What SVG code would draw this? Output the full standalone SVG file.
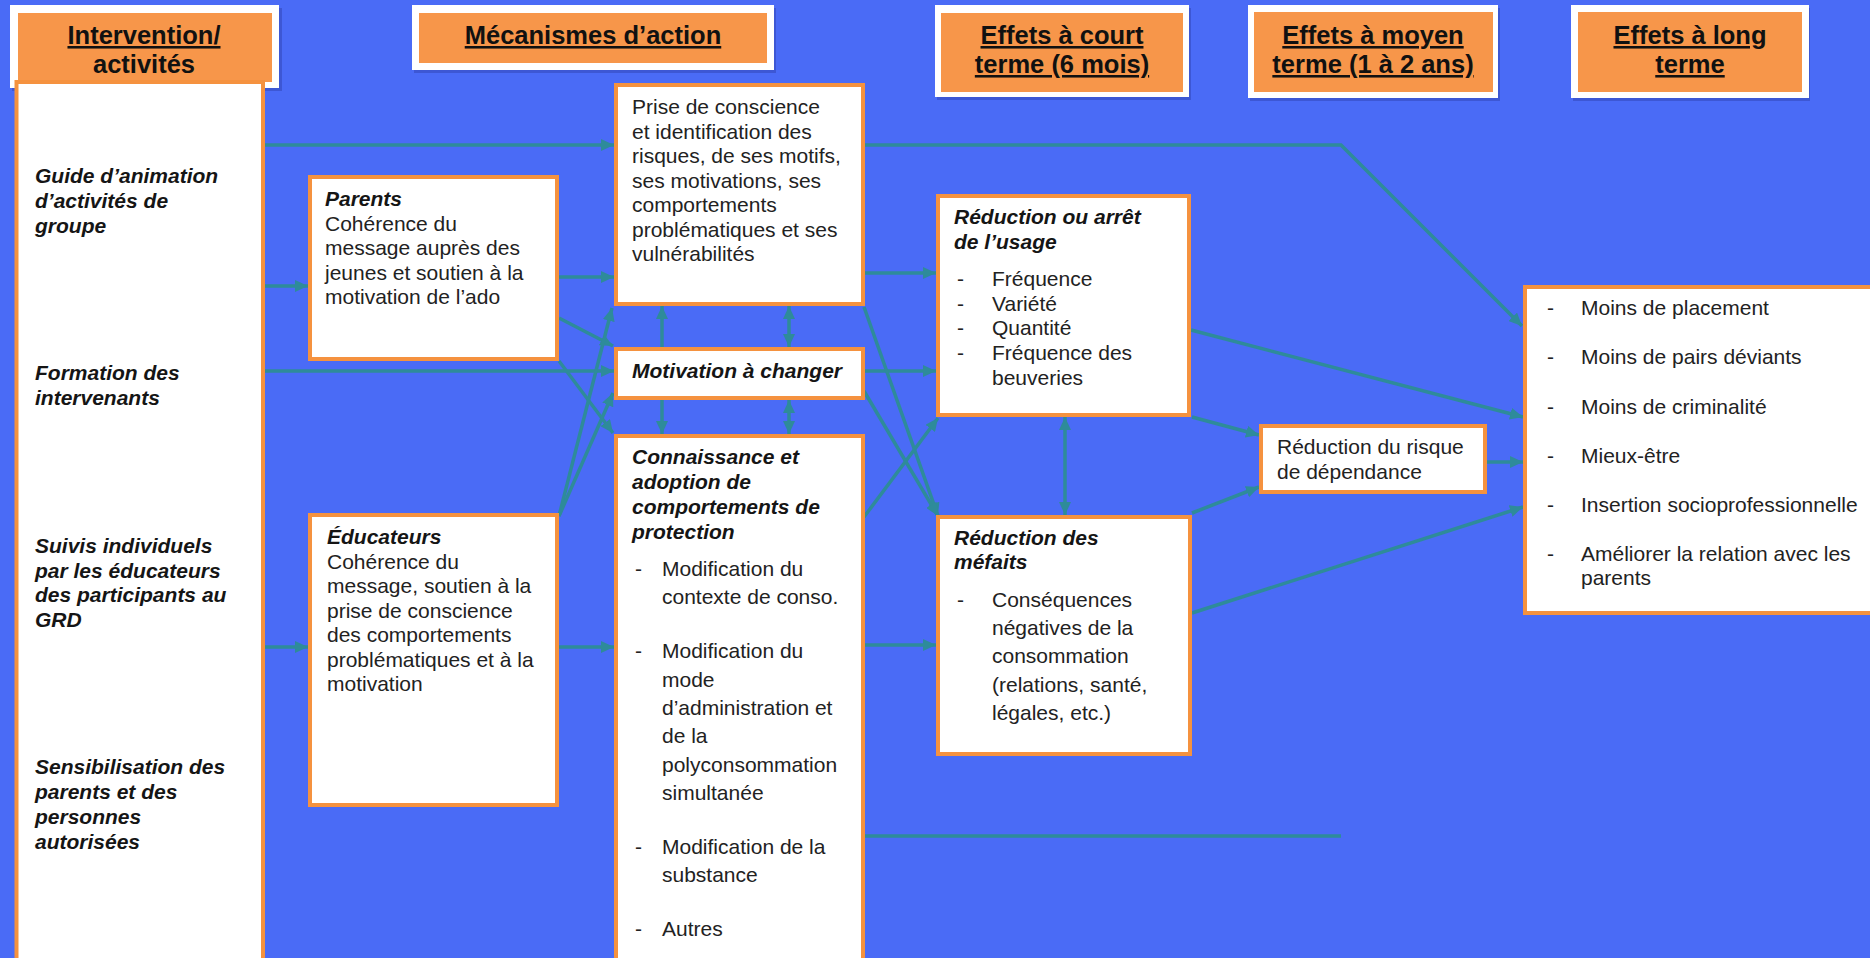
<svg xmlns="http://www.w3.org/2000/svg" width="1870" height="958" viewBox="0 0 1870 958">
<defs>
<style>
.hdr-shadow{fill:#3347b8;opacity:0.55}
.hdr-frame{fill:#ffffff}
.hdr-fill{fill:#F7964A}
.hdr-text{font-family:"Liberation Sans",Arial,sans-serif;font-size:25.5px;font-weight:bold;fill:#111;text-anchor:middle;text-decoration:underline}
.box{fill:#ffffff;stroke:#F5923F;stroke-width:4}
.t{font-family:"Liberation Sans",Arial,sans-serif;font-size:21px;fill:#222}
.bi{font-family:"Liberation Sans",Arial,sans-serif;font-size:21px;font-weight:bold;font-style:italic;fill:#151515}
.c{fill:none;stroke:#2E8B9A;stroke-width:3.5}
.a{marker-end:url(#ah)}
.d{marker-end:url(#ah);marker-start:url(#ah)}
</style>
<marker id="ah" markerUnits="userSpaceOnUse" markerWidth="14" markerHeight="12" refX="13" refY="6" orient="auto-start-reverse">
<path d="M0,0 L13,6 L0,12 z" fill="#2E8B9A"/>
</marker>
</defs>
<rect x="0" y="0" width="1870" height="958" fill="#4A6BF6"/>

<g id="header-intervention">
<rect class="hdr-shadow" x="12" y="8" width="270" height="83"/>
<rect class="hdr-frame" x="10" y="5" width="269" height="83"/>
<rect class="hdr-fill" x="18" y="13" width="254" height="69"/>
<text class="hdr-text" x="144" y="44">Intervention/</text>
<text class="hdr-text" x="144" y="73" style="text-decoration:none">activités</text>
</g>
<g id="header-mecanismes">
<rect class="hdr-shadow" x="414" y="8" width="362" height="65"/>
<rect class="hdr-frame" x="412" y="5" width="362" height="65"/>
<rect class="hdr-fill" x="419" y="13" width="348" height="50"/>
<text class="hdr-text" x="593" y="44">Mécanismes d’action</text>
</g>
<g id="header-court">
<rect class="hdr-shadow" x="937" y="8" width="254" height="92"/>
<rect class="hdr-frame" x="935" y="5" width="254" height="92"/>
<rect class="hdr-fill" x="941" y="13" width="242" height="79"/>
<text class="hdr-text" x="1062" y="44">Effets à court</text>
<text class="hdr-text" x="1062" y="73">terme (6 mois)</text>
</g>
<g id="header-moyen">
<rect class="hdr-shadow" x="1250" y="8" width="250" height="93"/>
<rect class="hdr-frame" x="1248" y="5" width="250" height="93"/>
<rect class="hdr-fill" x="1254" y="12" width="239" height="80"/>
<text class="hdr-text" x="1373" y="44">Effets à moyen</text>
<text class="hdr-text" x="1373" y="73">terme (1 à 2 ans)</text>
</g>
<g id="header-long">
<rect class="hdr-shadow" x="1573" y="8" width="237" height="93"/>
<rect class="hdr-frame" x="1571" y="5" width="238" height="93"/>
<rect class="hdr-fill" x="1578" y="12" width="224" height="80"/>
<text class="hdr-text" x="1690" y="44">Effets à long</text>
<text class="hdr-text" x="1690" y="73">terme</text>
</g>

<g id="connectors">
<path class="c a" d="M265,145 L614,145"/>
<path class="c a" d="M865,145 L1341,145 L1522,326"/>
<path class="c a" d="M265,286 L308,286"/>
<path class="c a" d="M559,277 L614,277"/>
<path class="c a" d="M265,371 L614,371"/>
<path class="c a" d="M265,647 L308,647"/>
<path class="c a" d="M559,647 L614,647"/>
<path class="c a" d="M559,318 L613,346"/>
<path class="c a" d="M559,361 L613,433"/>
<path class="c a" d="M559,516 L612,308"/>
<path class="c a" d="M559,516 L613,393"/>
<path class="c a" d="M662,347 L662,306"/>
<path class="c d" d="M789,347 L789,306"/>
<path class="c a" d="M662,400 L662,434"/>
<path class="c d" d="M789,400 L789,434"/>
<path class="c a" d="M865,273 L936,273"/>
<path class="c a" d="M865,371 L936,371"/>
<path class="c a" d="M864,307 L938,516"/>
<path class="c a" d="M864,391 L938,516"/>
<path class="c a" d="M864,517 L938,418"/>
<path class="c a" d="M865,645 L936,645"/>
<path class="c" d="M865,836 L1341,836"/>
<path class="c d" d="M1065,417 L1065,515"/>
<path class="c a" d="M1191,330 L1523,417"/>
<path class="c a" d="M1192,417 L1259,435"/>
<path class="c a" d="M1192,513 L1259,487"/>
<path class="c a" d="M1487,462 L1523,462"/>
<path class="c a" d="M1192,613 L1523,507"/>
</g>

<g id="node-interventions">
<rect class="box" x="16.5" y="82" width="246.5" height="900"/>
<text class="bi"><tspan x="35" y="183">Guide d’animation</tspan><tspan x="35" y="208">d’activités de</tspan><tspan x="35" y="233">groupe</tspan></text>
<text class="bi"><tspan x="35" y="380">Formation des</tspan><tspan x="35" y="405">intervenants</tspan></text>
<text class="bi"><tspan x="35" y="553">Suivis individuels</tspan><tspan x="35" y="577.5">par les éducateurs</tspan><tspan x="35" y="602">des participants au</tspan><tspan x="35" y="626.5">GRD</tspan></text>
<text class="bi"><tspan x="35" y="774">Sensibilisation des</tspan><tspan x="35" y="799">parents et des</tspan><tspan x="35" y="824">personnes</tspan><tspan x="35" y="849">autorisées</tspan></text>
</g>

<g id="node-parents">
<rect class="box" x="310" y="177" width="247" height="182"/>
<text class="bi" x="325" y="206">Parents</text>
<text class="t"><tspan x="325" y="230.5">Cohérence du</tspan><tspan x="325" y="255">message auprès des</tspan><tspan x="325" y="279.5">jeunes et soutien à la</tspan><tspan x="325" y="304">motivation de l’ado</tspan></text>
</g>

<g id="node-educateurs">
<rect class="box" x="310" y="515" width="247" height="290"/>
<text class="bi" x="327" y="544">Éducateurs</text>
<text class="t"><tspan x="327" y="568.5">Cohérence du</tspan><tspan x="327" y="593">message, soutien à la</tspan><tspan x="327" y="617.5">prise de conscience</tspan><tspan x="327" y="642">des comportements</tspan><tspan x="327" y="666.5">problématiques et à la</tspan><tspan x="327" y="691">motivation</tspan></text>
</g>

<g id="node-prise">
<rect class="box" x="616" y="85" width="247" height="219"/>
<text class="t"><tspan x="632" y="114">Prise de conscience</tspan><tspan x="632" y="138.5">et identification des</tspan><tspan x="632" y="163">risques, de ses motifs,</tspan><tspan x="632" y="187.5">ses motivations, ses</tspan><tspan x="632" y="212">comportements</tspan><tspan x="632" y="236.5">problématiques et ses</tspan><tspan x="632" y="261">vulnérabilités</tspan></text>
</g>

<g id="node-motivation">
<rect class="box" x="616" y="349" width="247" height="49"/>
<text class="bi" x="632" y="377.5">Motivation à changer</text>
</g>

<g id="node-connaissance">
<rect class="box" x="616" y="436" width="247" height="560"/>
<text class="bi"><tspan x="632" y="464">Connaissance et</tspan><tspan x="632" y="489">adoption de</tspan><tspan x="632" y="514">comportements de</tspan><tspan x="632" y="538.5">protection</tspan></text>
<text class="t"><tspan x="635" y="576">-</tspan><tspan x="662" y="576">Modification du</tspan><tspan x="662" y="604">contexte de conso.</tspan><tspan x="635" y="658">-</tspan><tspan x="662" y="658">Modification du</tspan><tspan x="662" y="686.5">mode</tspan><tspan x="662" y="715">d’administration et</tspan><tspan x="662" y="743">de la</tspan><tspan x="662" y="771.5">polyconsommation</tspan><tspan x="662" y="800">simultanée</tspan><tspan x="635" y="854">-</tspan><tspan x="662" y="854">Modification de la</tspan><tspan x="662" y="881.5">substance</tspan><tspan x="635" y="935.5">-</tspan><tspan x="662" y="935.5">Autres</tspan></text>
</g>

<g id="node-usage">
<rect class="box" x="938" y="196" width="251" height="219"/>
<text class="bi"><tspan x="954" y="224">Réduction ou arrêt</tspan><tspan x="954" y="249">de l’usage</tspan></text>
<text class="t"><tspan x="957" y="286">-</tspan><tspan x="992" y="286">Fréquence</tspan><tspan x="957" y="310.5">-</tspan><tspan x="992" y="310.5">Variété</tspan><tspan x="957" y="335">-</tspan><tspan x="992" y="335">Quantité</tspan><tspan x="957" y="360">-</tspan><tspan x="992" y="360">Fréquence des</tspan><tspan x="992" y="385">beuveries</tspan></text>
</g>

<g id="node-mefaits">
<rect class="box" x="938" y="517" width="252" height="237"/>
<text class="bi"><tspan x="954" y="545">Réduction des</tspan><tspan x="954" y="569">méfaits</tspan></text>
<text class="t"><tspan x="957" y="606.5">-</tspan><tspan x="992" y="606.5">Conséquences</tspan><tspan x="992" y="635">négatives de la</tspan><tspan x="992" y="663">consommation</tspan><tspan x="992" y="691.5">(relations, santé,</tspan><tspan x="992" y="720">légales, etc.)</tspan></text>
</g>

<g id="node-dependance">
<rect class="box" x="1261" y="426" width="224" height="66"/>
<text class="t"><tspan x="1277" y="453.5">Réduction du risque</tspan><tspan x="1277" y="479">de dépendance</tspan></text>
</g>

<g id="node-long-terme">
<rect class="box" x="1525" y="287" width="360" height="326"/>
<text class="t"><tspan x="1547" y="315">-</tspan><tspan x="1581" y="315">Moins de placement</tspan><tspan x="1547" y="364">-</tspan><tspan x="1581" y="364">Moins de pairs déviants</tspan><tspan x="1547" y="413.5">-</tspan><tspan x="1581" y="413.5">Moins de criminalité</tspan><tspan x="1547" y="462.5">-</tspan><tspan x="1581" y="462.5">Mieux-être</tspan><tspan x="1547" y="511.5">-</tspan><tspan x="1581" y="511.5">Insertion socioprofessionnelle</tspan><tspan x="1547" y="560.5">-</tspan><tspan x="1581" y="560.5">Améliorer la relation avec les</tspan><tspan x="1581" y="585">parents</tspan></text>
</g>
</svg>
